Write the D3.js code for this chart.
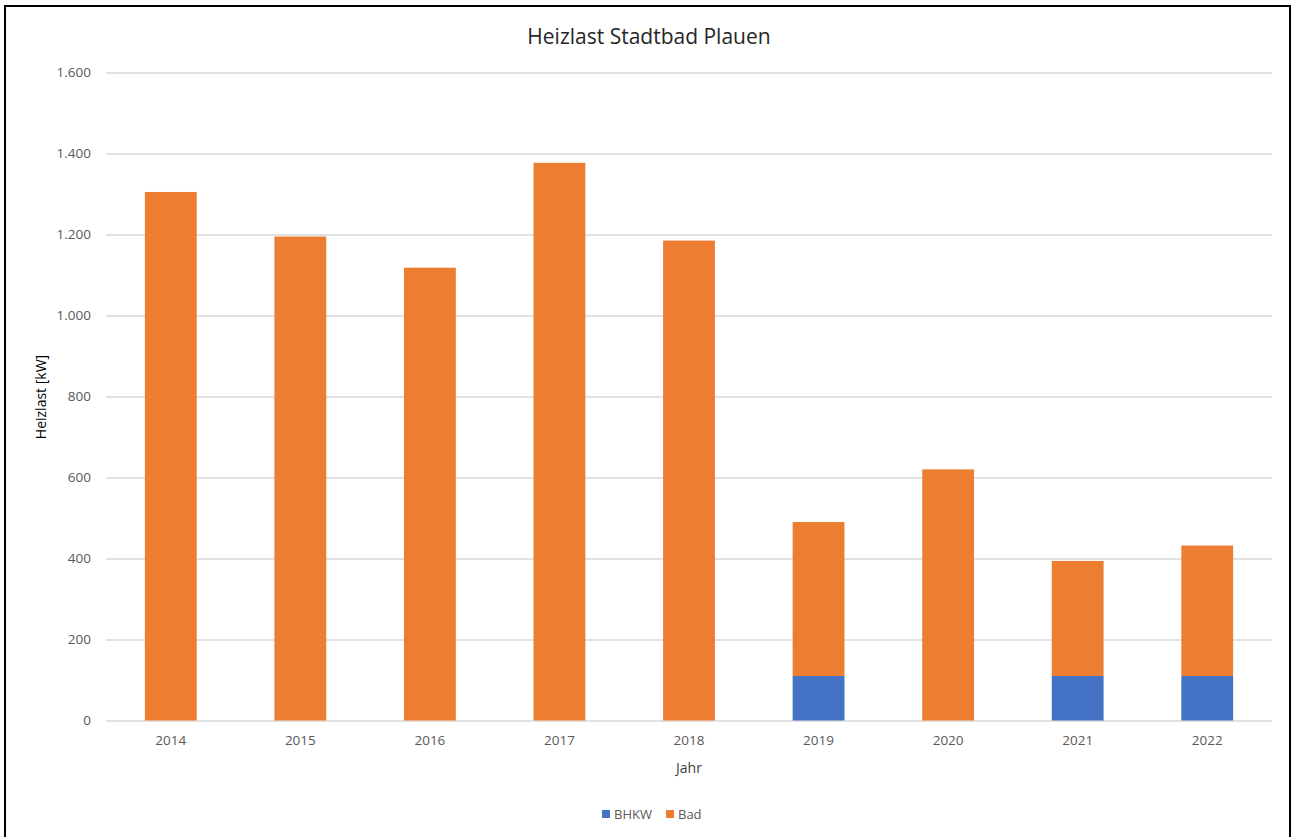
<!DOCTYPE html>
<html>
<head>
<meta charset="utf-8">
<script src="https://cdn.jsdelivr.net/npm/d3@7"></script>
<style>
  body { margin: 0; background: #fff; }
  #chart svg { display: block; font-family: "Open Sans", "Noto Sans", sans-serif; }
</style>
</head>
<body>
<div id="chart"></div>
<script>
(function () {
  "use strict";

  var years = ["2014", "2015", "2016", "2017", "2018", "2019", "2020", "2021", "2022"],
    bhkw = [0, 0, 0, 0, 0, 110, 0, 110, 110],
    bad = [1305, 1195, 1118, 1377, 1185, 380, 620, 284, 322],
    seriesNames = ["BHKW", "Bad"],
    yTicks = [0, 200, 400, 600, 800, 1000, 1200, 1400, 1600];

  var w = 1293,
    h = 837,
    margin = { top: 72, right: 21, bottom: 116, left: 106 },
    fontFam = "'Open Sans', 'Noto Sans', sans-serif",
    // Office-Farben
    colors = d3.scaleOrdinal(seriesNames, ["#4472c4", "#ed7d31"]),
    svg, x, y;

  var de = d3.formatLocale({ decimal: ",", thousands: ".", grouping: [3], currency: ["", " €"] });
  var fmt = de.format(",.0f");

  function createSvg() {
    svg = d3.select("#chart")
      .append("svg")
      .attr("width", w)
      .attr("height", h);

    svg.append("rect")
      .attr("x", 5).attr("y", 6)
      .attr("width", 1285).attr("height", h + 10)
      .attr("fill", "#fff")
      .attr("stroke", "#000")
      .attr("stroke-width", 2);
  }

  function getScales() {
    x = d3.scaleBand()
      .domain(years)
      .range([margin.left, w - margin.right])
      .paddingInner(0.6)
      .paddingOuter(0.3);

    y = d3.scaleLinear()
      .domain([0, 1600])
      .range([h - margin.bottom - 0.5, margin.top + 0.5]);
  }

  function createAxes() {
    var yAxis = svg.append("g")
      .attr("transform", "translate(" + margin.left + ",0)")
      .call(d3.axisLeft(y).tickValues(yTicks).tickFormat(fmt)
        .tickSize(-(w - margin.left - margin.right)).tickPadding(15));
    yAxis.attr("font-family", fontFam);
    yAxis.select(".domain").remove();
    yAxis.selectAll(".tick line").attr("stroke", "#d9d9d9").attr("stroke-width", 1.3);
    yAxis.selectAll(".tick text")
      .attr("fill", "#595959")
      .style("font-size", "13.5px");

    var xAxis = svg.append("g")
      .attr("transform", "translate(0," + (h - margin.bottom) + ")")
      .call(d3.axisBottom(x).tickSize(0).tickPadding(14));
    xAxis.attr("font-family", fontFam);
    xAxis.select(".domain").remove();
    xAxis.selectAll(".tick text")
      .attr("fill", "#595959")
      .style("font-size", "13.5px");
  }

  function createBars() {
    var rows = years.map(function (yr, i) {
      return { year: yr, BHKW: bhkw[i], Bad: bad[i] };
    });
    var stacked = d3.stack().keys(seriesNames)(rows);

    svg.append("g")
      .selectAll("g")
      .data(stacked)
      .enter().append("g")
      .attr("fill", function (d) { return colors(d.key); })
      .selectAll("rect")
      .data(function (d) { return d; })
      .enter().append("rect")
      .attr("x", function (d) { return x(d.data.year); })
      .attr("width", x.bandwidth())
      .attr("y", function (d) { return y(d[1]); })
      .attr("height", function (d) { return y(d[0]) - y(d[1]); });
  }

  function createTexts() {
    svg.append("text")
      .attr("x", 649).attr("y", 44)
      .attr("text-anchor", "middle")
      .attr("fill", "#262626")
      .style("font-size", "21px")
      .text("Heizlast Stadtbad Plauen");

    svg.append("text")
      .attr("transform", "translate(46,397) rotate(-90)")
      .attr("text-anchor", "middle")
      .attr("fill", "#000")
      .style("font-size", "14px")
      .text("Heizlast [kW]");

    svg.append("text")
      .attr("x", 689).attr("y", 773)
      .attr("text-anchor", "middle")
      .attr("fill", "#404040")
      .style("font-size", "14px")
      .text("Jahr");

    var legend = svg.append("g");
    var pos = [602, 666];
    seriesNames.forEach(function (name, i) {
      legend.append("rect")
        .attr("x", pos[i]).attr("y", 810)
        .attr("width", 8).attr("height", 8)
        .attr("fill", colors(name));
      legend.append("text")
        .attr("x", pos[i] + 12).attr("y", 819)
        .attr("fill", "#595959")
        .style("font-size", "13px")
        .text(name);
    });
  }

  createSvg();
  getScales();
  createAxes();
  createBars();
  createTexts();
})();
</script>
</body>
</html>
